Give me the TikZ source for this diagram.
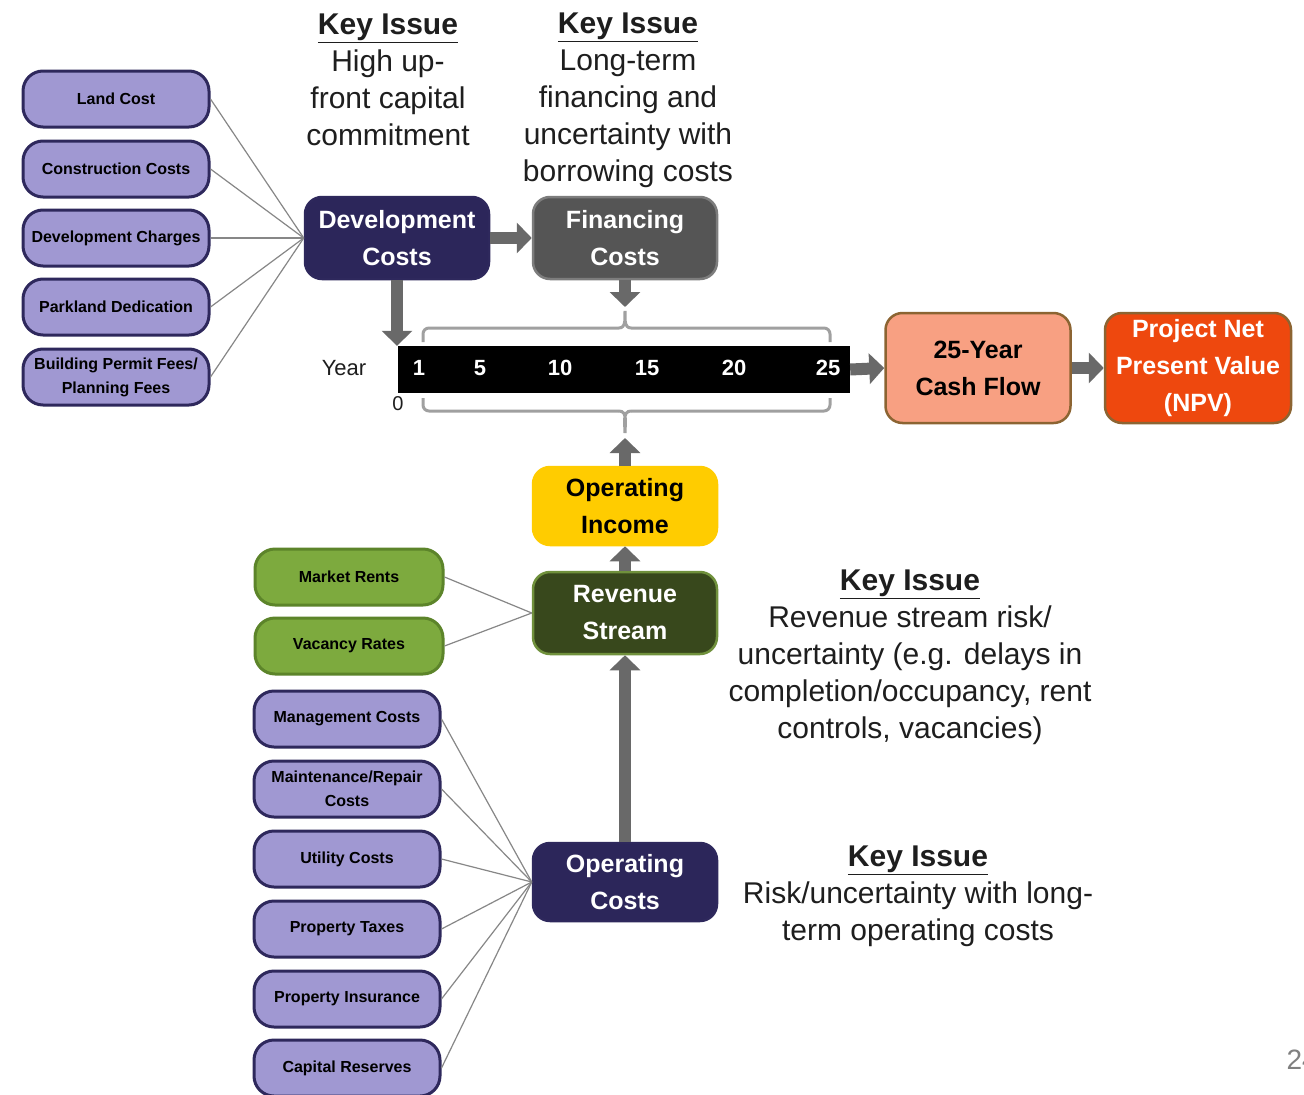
\documentclass[tikz,border=0pt]{standalone}
\usepackage{fontspec}
\setmainfont{Liberation Sans}
\usetikzlibrary{arrows.meta}
\definecolor{lav}{RGB}{160,152,210}
\definecolor{navyb}{RGB}{46,40,92}
\definecolor{navyf}{RGB}{44,38,90}
\definecolor{fing}{RGB}{85,85,85}
\definecolor{finb}{RGB}{125,125,125}
\definecolor{cashf}{RGB}{248,160,130}
\definecolor{brownb}{RGB}{140,100,50}
\definecolor{npvf}{RGB}{238,72,14}
\definecolor{yel}{RGB}{255,204,0}
\definecolor{revf}{RGB}{56,72,28}
\definecolor{revb}{RGB}{112,145,60}
\definecolor{grf}{RGB}{125,170,62}
\definecolor{grb}{RGB}{92,132,42}
\definecolor{arrg}{RGB}{105,105,105}
\definecolor{lineg}{RGB}{135,135,135}
\definecolor{braceg}{RGB}{160,160,160}
\definecolor{txt}{RGB}{30,30,30}
\tikzset{
  smallbox/.style={line width=3pt, rounded corners=20pt, minimum width=186pt,
    minimum height=56pt, inner sep=0pt, align=center,
    font=\bfseries\fontsize{16}{25}\selectfont},
  purp/.style={smallbox, draw=navyb, fill=lav},
  grn/.style={smallbox, draw=grb, fill=grf},
  bigbox/.style={line width=2.5pt, rounded corners=17pt, minimum width=184pt,
    minimum height=82pt, inner sep=0pt, align=center,
    font=\bfseries\fontsize{25}{37}\selectfont},
  bigarrow/.style={draw=arrg, line width=12pt, -{Triangle[length=15pt,width=30pt]}},
  conn/.style={draw=lineg, line width=1.2pt},
  bracel/.style={draw=braceg, line width=3pt, rounded corners=6pt},
  keytext/.style={align=center, text=txt, font=\fontsize{30}{37}\selectfont},
  tnum/.style={text=white, font=\bfseries\fontsize{22}{26}\selectfont},
}
\begin{document}
\begin{tikzpicture}[x=1pt,y=-1pt]
\useasboundingbox (0,0) rectangle (1304,1095);
\clip (0,0) rectangle (1304,1095);
\fill[white] (0,0) rectangle (1304,1095);

% top-left inputs
\node[purp] (lc) at (116,99) {Land Cost};
\node[purp] (cc) at (116,169) {Construction Costs};
\node[purp] (dc) at (116,238) {Development Charges};
\node[purp] (pd) at (116,307) {Parkland Dedication};
\node[purp, font=\bfseries\fontsize{16}{24}\selectfont] (bp) at (116,377) {Building Permit Fees/\\Planning Fees};

% main boxes
\node[bigbox, draw=navyb, fill=navyf, text=white] (dev) at (397,238) {Development\\Costs};
\node[bigbox, draw=finb, fill=fing, text=white] (fin) at (625,238) {Financing\\Costs};
\node[bigbox, draw=brownb, fill=cashf, text=black, minimum width=185pt, minimum height=110pt] (cash) at (978,368) {25-Year\\Cash Flow};
\node[bigbox, draw=brownb, fill=npvf, text=white, minimum width=186pt, minimum height=110pt] (npv) at (1198,368) {Project Net\\Present Value\\(NPV)};
\node[bigbox, draw=yel, fill=yel, text=black, minimum height=78pt] (inc) at (625,506) {Operating\\Income};
\node[bigbox, draw=revb, fill=revf, text=white] (rev) at (625,613) {Revenue\\Stream};
\node[bigbox, draw=navyb, fill=navyf, text=white, minimum height=78pt] (opc) at (625,882) {Operating\\Costs};

% green inputs
\node[grn, minimum width=188pt] (mr) at (349,577) {Market Rents};
\node[grn, minimum width=188pt] (vr) at (349,646) {Vacancy Rates};

% lower purple inputs
\node[purp] (mc) at (347,719) {Management Costs};
\node[purp, font=\bfseries\fontsize{16}{24}\selectfont] (mrc) at (347,789) {Maintenance/Repair\\Costs};
\node[purp] (uc) at (347,859) {Utility Costs};
\node[purp] (pt) at (347,929) {Property Taxes};
\node[purp] (pi) at (347,999) {Property Insurance};
\node[purp] (cr) at (347,1068) {Capital Reserves};

% timeline
\node[fill=black, minimum width=452pt, minimum height=47pt, inner sep=0pt] (bar) at (624,369.5) {};
\node[tnum] (n1) at (419,368) {1};
\node[tnum] (n5) at (480,368) {5};
\node[tnum] (n10) at (560,368) {10};
\node[tnum] (n15) at (647,368) {15};
\node[tnum] (n20) at (734,368) {20};
\node[tnum] (n25) at (828,368) {25};
\node[text=txt, font=\fontsize{22}{26}\selectfont] (yr) at (344,368) {Year};
\node[text=txt, font=\fontsize{20}{24}\selectfont] (zero) at (398,404) {0};

% braces
\coordinate (btop) at (625,307);
\coordinate (bbot) at (625,438);
\draw[bracel] (423,342) -- (423,328) -- (619,328);
\draw[draw=braceg, line width=3pt] (619,328) to[out=0,in=-90] (625,311) to[out=-90,in=180] (631,328);
\draw[bracel] (631,328) -- (830,328) -- (830,342);
\draw[bracel] (423,398) -- (423,411) -- (619,411);
\draw[draw=braceg, line width=3pt] (619,411) to[out=0,in=90] (625,433) to[out=90,in=180] (631,411);
\draw[bracel] (631,411) -- (830,411) -- (830,398);

% connectors
\foreach \n in {lc,cc,dc,pd,bp} \draw[conn] (\n.east) -- (dev.west);
\foreach \n in {mr,vr} \draw[conn] (\n.east) -- (rev.west);
\foreach \n in {mc,mrc,uc,pt,pi,cr} \draw[conn] (\n.east) -- (opc.west);

% big arrows
\draw[bigarrow] (dev.east) -- (fin.west);
\draw[bigarrow] (dev.south) -- (bar.north -| dev.south);
\draw[bigarrow] (fin.south) -- (btop);
\draw[bigarrow] (bar.east) -- (cash.west);
\draw[bigarrow] (cash.east) -- (npv.west);
\draw[bigarrow] (inc.north) -- (bbot);
\draw[bigarrow] (rev.north) -- (inc.south);
\draw[bigarrow] (opc.north) -- (rev.south);

% key issues
\node[keytext] (k1) at (388,80) {\textbf{\underline{Key Issue}}\\High up-\\front capital\\commitment};
\node[keytext] (k2) at (628,100) {\textbf{\underline{Key Issue}}\\Long-term\\financing and\\uncertainty with\\borrowing costs};
\node[keytext] (k3) at (910,657) {\textbf{\underline{Key Issue}}\\Revenue stream risk/\\uncertainty (e.g. delays in\\completion/occupancy, rent\\controls, vacancies)};
\node[keytext] (k4) at (918,896) {\textbf{\underline{Key Issue}}\\Risk/uncertainty with long-\\term operating costs};

% page number (cut off)
\node[text=gray, font=\fontsize{28}{32}\selectfont, anchor=west] (pg) at (1283,1060) {24};
\end{tikzpicture}
\end{document}
